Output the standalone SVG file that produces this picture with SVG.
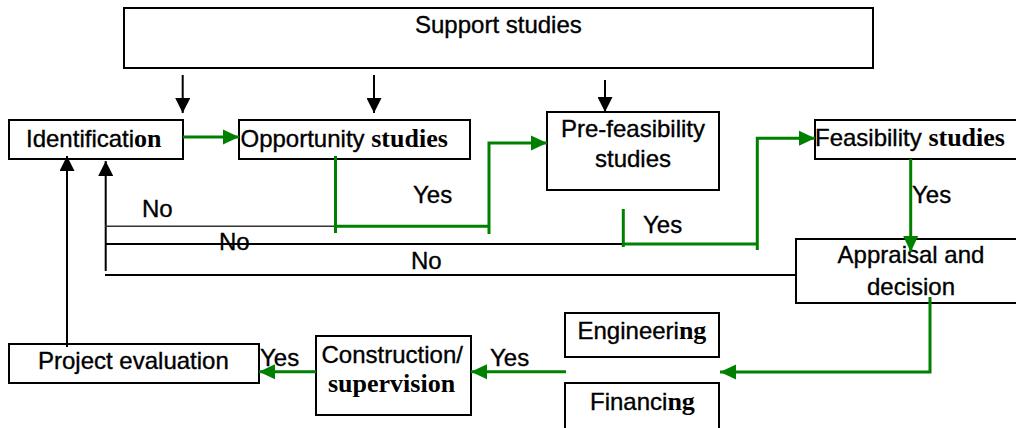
<svg xmlns="http://www.w3.org/2000/svg" width="1016" height="428" viewBox="0 0 1016 428">
<style>
.box{fill:#fff;stroke:#000;stroke-width:2}
.t{font-family:"Liberation Sans",Arial,sans-serif;font-size:24px;fill:#000;stroke:#000;stroke-width:0.35}
.b{font-family:"Liberation Serif","Times New Roman",serif;font-weight:bold;font-size:26px;stroke-width:0}
.k{fill:none;stroke:#000;stroke-width:2}
.g{fill:none;stroke:#008000;stroke-width:3}
</style>
<defs>
<marker id="ak" markerUnits="userSpaceOnUse" markerWidth="15" markerHeight="15" refX="15" refY="7.5" orient="auto"><path d="M0,0 L15,7.5 L0,15 z" fill="#000"/></marker>
<marker id="ag" markerUnits="userSpaceOnUse" markerWidth="16" markerHeight="16" refX="16" refY="8" orient="auto"><path d="M0,0.5 L16,8 L0,15.5 z" fill="#008000"/></marker>
</defs>
<rect width="1016" height="428" fill="#fff"/>
<g id="support"><rect class="box" x="124" y="8" width="749" height="60"/><text class="t" x="415" y="33">Support studies</text></g>
<g id="identification"><rect class="box" x="9" y="120" width="174" height="39"/><text class="t" x="26" y="146.7">Identificati<tspan class="b">on</tspan></text></g>
<g id="opportunity"><rect class="box" x="239" y="120" width="231" height="39"/><text class="t" x="240.5" y="146.7">Opportunity <tspan class="b">studies</tspan></text></g>
<g id="prefeasibility"><rect class="box" x="547" y="112" width="172" height="78"/><text class="t" text-anchor="middle"><tspan x="633" y="137.3">Pre-feasibility</tspan><tspan x="633" y="166.7">studies</tspan></text></g>
<g id="feasibility"><rect class="box" x="815" y="120" width="220" height="39"/><text class="t" x="815" y="146">Feasibility <tspan class="b">studies</tspan></text></g>
<g id="appraisal"><rect class="box" x="796" y="239" width="240" height="64"/><text class="t" text-anchor="middle"><tspan x="911" y="263.3">Appraisal and</tspan><tspan x="911" y="295">decision</tspan></text></g>
<g id="engineering"><rect class="box" x="565" y="313" width="154" height="44"/><text class="t" x="577.5" y="339.3">Engineeri<tspan class="b">ng</tspan></text></g>
<g id="financing"><rect class="box" x="565" y="383" width="154" height="48"/><text class="t" x="590" y="410">Financi<tspan class="b">ng</tspan></text></g>
<g id="construction"><rect class="box" x="316" y="336" width="155" height="79"/><text class="t"><tspan x="321.5" y="362.7">Construction/</tspan><tspan class="b" x="328" y="391.7">supervision</tspan></text></g>
<g id="evaluation"><rect class="box" x="9" y="344" width="250" height="39"/><text class="t" x="38" y="369.3">Project evaluation</text></g>
<g id="connectors">
<path class="k" d="M182.7,75 L182.7,113" marker-end="url(#ak)"/>
<path class="k" d="M374,75 L374,113" marker-end="url(#ak)"/>
<path class="k" d="M605,80 L605,112" marker-end="url(#ak)"/>
<path class="k" d="M67,347 L67,156" marker-end="url(#ak)"/>
<path class="k" d="M105.7,271 L105.7,161" marker-end="url(#ak)"/>
<path d="M105,226.3 L335,226.3" fill="none" stroke="#333" stroke-width="1.6"/>
<path class="k" d="M105,244 L623,244"/>
<path class="k" d="M105,275 L796,275"/>
<path class="g" d="M183,137 L239,137" marker-end="url(#ag)"/>
<path class="g" d="M335.5,156 L335.5,233"/>
<path class="g" d="M335.5,226.3 L489,226.3"/>
<path class="g" d="M489,234 L489,143 L547,143" marker-end="url(#ag)"/>
<path class="g" d="M623.3,209 L623.3,247"/>
<path class="g" d="M623.3,244 L757.3,244"/>
<path class="g" d="M757.3,250 L757.3,138.3 L815,138.3" marker-end="url(#ag)"/>
<path class="g" d="M910.7,159 L910.7,252" marker-end="url(#ag)"/>
<path class="g" d="M930,297 L930,372 L720,372" marker-end="url(#ag)"/>
<path class="g" d="M566,371.7 L471,371.7" marker-end="url(#ag)"/>
<path class="g" d="M316,371.7 L259,371.7" marker-end="url(#ag)"/>
<text class="t" x="142" y="216.7">No</text>
<text class="t" x="219" y="250">No</text>
<text class="t" x="411" y="269">No</text>
<text class="t" x="413" y="203">Yes</text>
<text class="t" x="643" y="233.3">Yes</text>
<text class="t" x="912" y="202.7">Yes</text>
<text class="t" x="260" y="366">Yes</text>
<text class="t" x="490" y="366">Yes</text>
</g>
</svg>
